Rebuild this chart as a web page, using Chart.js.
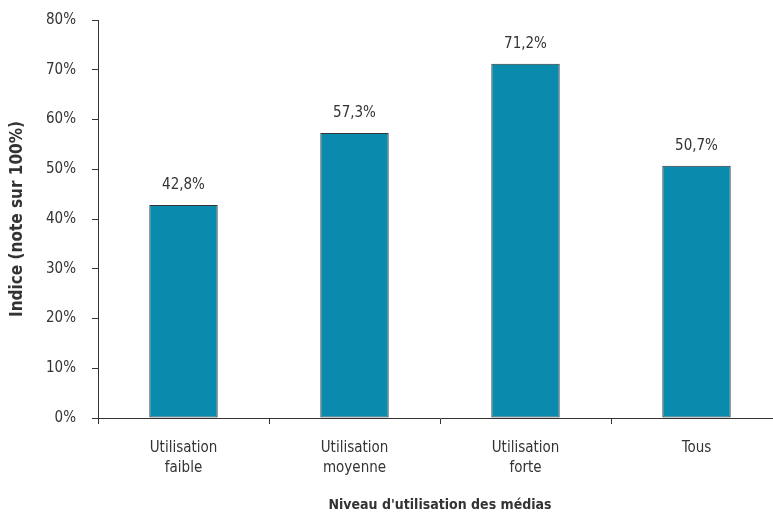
<!DOCTYPE html>
<html>
<head>
<meta charset="utf-8">
<script src="https://cdn.jsdelivr.net/npm/chart.js@4"></script>
<style>
  html, body { margin: 0; padding: 0; background: #fff; overflow: hidden; }
  #wrap { position: absolute; left: 0; top: 0; width: 790px; height: 514px; }
</style>
</head>
<body>
<div id="wrap"><canvas id="c"></canvas></div>
<script>
// Niveau d'utilisation des médias — indice (note sur 100%)
const categories = [['Utilisation', 'faible'], ['Utilisation', 'moyenne'], ['Utilisation', 'forte'], 'Tous']
const values = [42.8, 57.3, 71.2, 50.7]
const yTicks = [0, 10, 20, 30, 40, 50, 60, 70, 80]

const FONT = "'Liberation Sans Narrow', 'DejaVu Sans Condensed', 'Open Sans', sans-serif"
const INK = '#333333'

// etiquettes de valeur au-dessus des barres (format français)
const valueLabels = {
  id: 'valueLabels',
  afterDatasetsDraw(chart) {
    const ctx = chart.ctx
    const meta = chart.getDatasetMeta(0)
    ctx.save()
    ctx.fillStyle = INK
    ctx.font = '15px ' + FONT
    ctx.textAlign = 'center'
    ctx.textBaseline = 'middle'
    meta.data.forEach((bar, i) => {
      ctx.fillText(values[i].toFixed(1).replace('.', ',') + '%', bar.x, bar.y - 20)
    })
    ctx.restore()
  }
}

new Chart(document.getElementById('c'), {
  type: 'bar',
  data: {
    labels: categories,
    datasets: [{
      data: values,
      backgroundColor: '#0a8bad',
      borderColor: '#333333',
      borderWidth: 1,
      borderSkipped: false,
      barPercentage: 0.4,
      categoryPercentage: 1
    }]
  },
  options: {
    responsive: true,
    maintainAspectRatio: false,
    animation: false,
    layout: { padding: { left: 0, top: 20, right: 8, bottom: 0 } },
    plugins: { legend: { display: false }, tooltip: { enabled: false } },
    scales: {
      x: {
        afterFit: s => { s.height = 96 },
        border: { color: INK, width: 1 },
        grid: { offset: true, drawOnChartArea: false, tickLength: 6, color: INK },
        ticks: { color: INK, font: { family: FONT, size: 15, lineHeight: 1.35 }, padding: 14, maxRotation: 0 },
        title: {
          display: true,
          text: "Niveau d'utilisation des médias",
          color: INK,
          font: { family: FONT, size: 14, weight: 'bold' },
          padding: { top: 2, bottom: 0 }
        }
      },
      y: {
        min: 0,
        max: 80,
        afterFit: s => { s.width = 98; s.paddingTop = 0; s.paddingBottom = 0 },
        afterBuildTicks: s => { s.ticks = yTicks.map(v => ({ value: v })) },
        border: { color: INK, width: 1 },
        grid: { drawOnChartArea: false, tickLength: 6, color: INK },
        ticks: { color: INK, font: { family: FONT, size: 15 }, padding: 16, callback: v => v + '%' },
        title: {
          display: true,
          text: 'Indice (note sur 100%)',
          color: INK,
          font: { family: FONT, size: 17, weight: 'bold' },
          padding: { top: 7, bottom: 0 }
        }
      }
    }
  },
  plugins: [valueLabels]
})
</script>
</body>
</html>
